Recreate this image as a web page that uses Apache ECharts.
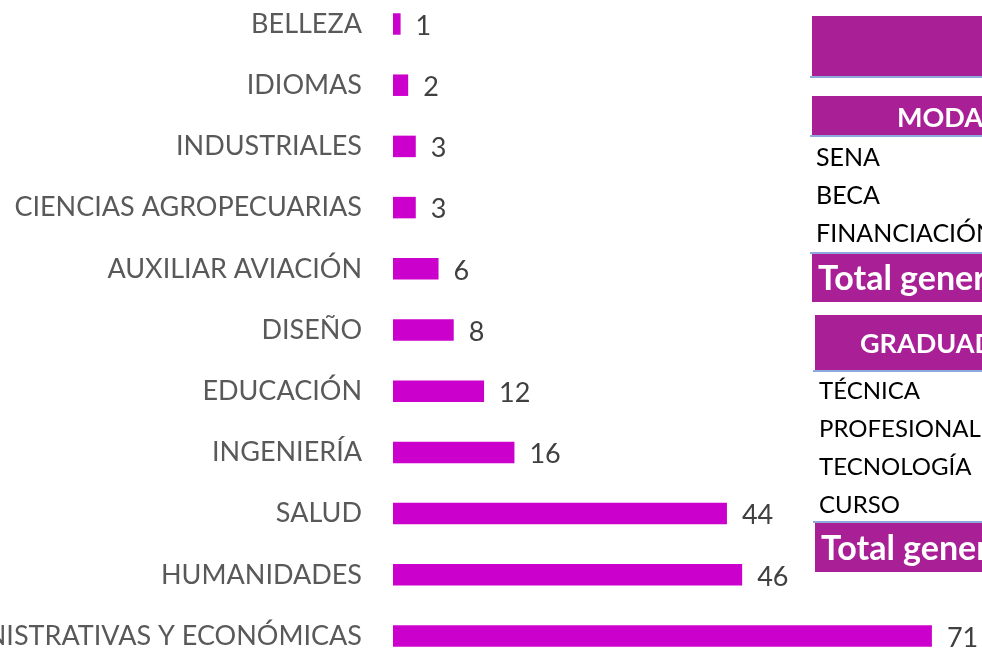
<!DOCTYPE html>
<html>
<head>
<meta charset="utf-8">
<script src="https://cdn.jsdelivr.net/npm/echarts@6/dist/echarts.min.js"></script>
<style>
  html, body { margin: 0; padding: 0; background: #fff; }
  #chart { width: 982px; height: 648px; }
</style>
</head>
<body>
<div id="chart"></div>
<script>
// áreas de formación (de arriba hacia abajo en la imagen)
const areas = ['BELLEZA', 'IDIOMAS', 'INDUSTRIALES', 'CIENCIAS AGROPECUARIAS', 'AUXILIAR AVIACIÓN',
  'DISEÑO', 'EDUCACIÓN', 'INGENIERÍA', 'SALUD', 'HUMANIDADES', 'CIENCIAS ADMINISTRATIVAS Y ECONÓMICAS'];
const cantidades = [1, 2, 3, 3, 6, 8, 12, 16, 44, 46, 71];

// tablas dinámicas a la derecha (cortadas en el borde)
const modalidadTitulo = 'MODALIDAD';
const modalidades = ['SENA', 'BECA', 'FINANCIACIÓN'];
const graduadoTitulo = 'GRADUADO';
const graduados = ['TÉCNICA', 'PROFESIONAL', 'TECNOLOGÍA', 'CURSO'];
const totalTexto = 'Total general';

const chart = echarts.init(document.getElementById('chart'));

const purple = '#A81F96';
const blueLine = '#8EA9DB';
const fontFam = 'Lato, "Open Sans", sans-serif';

const graphics = [];
// cabecera superior
graphics.push({ type: 'rect', shape: { x: 812, y: 16, width: 200, height: 60 }, style: { fill: purple } });
graphics.push({ type: 'rect', shape: { x: 810, y: 76, width: 200, height: 2 }, style: { fill: blueLine } });

// tabla modalidad
graphics.push({ type: 'rect', shape: { x: 812, y: 96, width: 200, height: 39 }, style: { fill: purple } });
graphics.push({ type: 'rect', shape: { x: 810, y: 135, width: 200, height: 2 }, style: { fill: blueLine } });
graphics.push({ type: 'text', x: 897, y: 118, style: { text: modalidadTitulo, fill: '#fff', font: 'bold 27px ' + fontFam, textVerticalAlign: 'middle' } });
modalidades.forEach((m, i) => {
  graphics.push({ type: 'text', x: 816, y: 158 + i * 38, style: { text: m, fill: '#000', font: '25px ' + fontFam, textVerticalAlign: 'middle' } });
});
graphics.push({ type: 'rect', shape: { x: 810, y: 252, width: 200, height: 2 }, style: { fill: blueLine } });
graphics.push({ type: 'rect', shape: { x: 812, y: 254, width: 200, height: 48 }, style: { fill: purple } });
graphics.push({ type: 'text', x: 818, y: 279, style: { text: totalTexto, fill: '#fff', font: 'bold 34px ' + fontFam, textVerticalAlign: 'middle' } });

// tabla graduado
graphics.push({ type: 'rect', shape: { x: 815, y: 315, width: 200, height: 55 }, style: { fill: purple } });
graphics.push({ type: 'rect', shape: { x: 813, y: 370, width: 200, height: 2 }, style: { fill: blueLine } });
graphics.push({ type: 'text', x: 860, y: 344, style: { text: graduadoTitulo, fill: '#fff', font: 'bold 27px ' + fontFam, textVerticalAlign: 'middle' } });
graduados.forEach((g, i) => {
  graphics.push({ type: 'text', x: 819, y: 391 + i * 38, style: { text: g, fill: '#000', font: '24px ' + fontFam, textVerticalAlign: 'middle' } });
});
graphics.push({ type: 'rect', shape: { x: 813, y: 521, width: 200, height: 2 }, style: { fill: blueLine } });
graphics.push({ type: 'rect', shape: { x: 815, y: 523, width: 200, height: 49 }, style: { fill: purple } });
graphics.push({ type: 'text', x: 821, y: 549, style: { text: totalTexto, fill: '#fff', font: 'bold 34px ' + fontFam, textVerticalAlign: 'middle' } });

const option = {
  backgroundColor: '#fff',
  animation: false,
  grid: {
    left: 393,
    top: -6.6,
    width: 607.2,
    height: 673.2,
    containLabel: false,
    outerBoundsMode: 'none'
  },
  xAxis: {
    type: 'value',
    min: 0,
    max: 80,
    show: false
  },
  yAxis: {
    type: 'category',
    inverse: true,
    data: areas,
    axisLine: { show: false },
    axisTick: { show: false },
    axisLabel: {
      color: '#595959',
      fontSize: 27,
      fontFamily: fontFam,
      margin: 31
    }
  },
  series: [{
    type: 'bar',
    data: cantidades,
    barWidth: 21.5,
    itemStyle: { color: '#CC00CC' },
    label: {
      show: true,
      position: 'right',
      distance: 15,
      offset: [0, 2],
      color: '#404040',
      fontSize: 27,
      fontFamily: fontFam
    }
  }],
  graphic: graphics
};

chart.setOption(option);
</script>
</body>
</html>
